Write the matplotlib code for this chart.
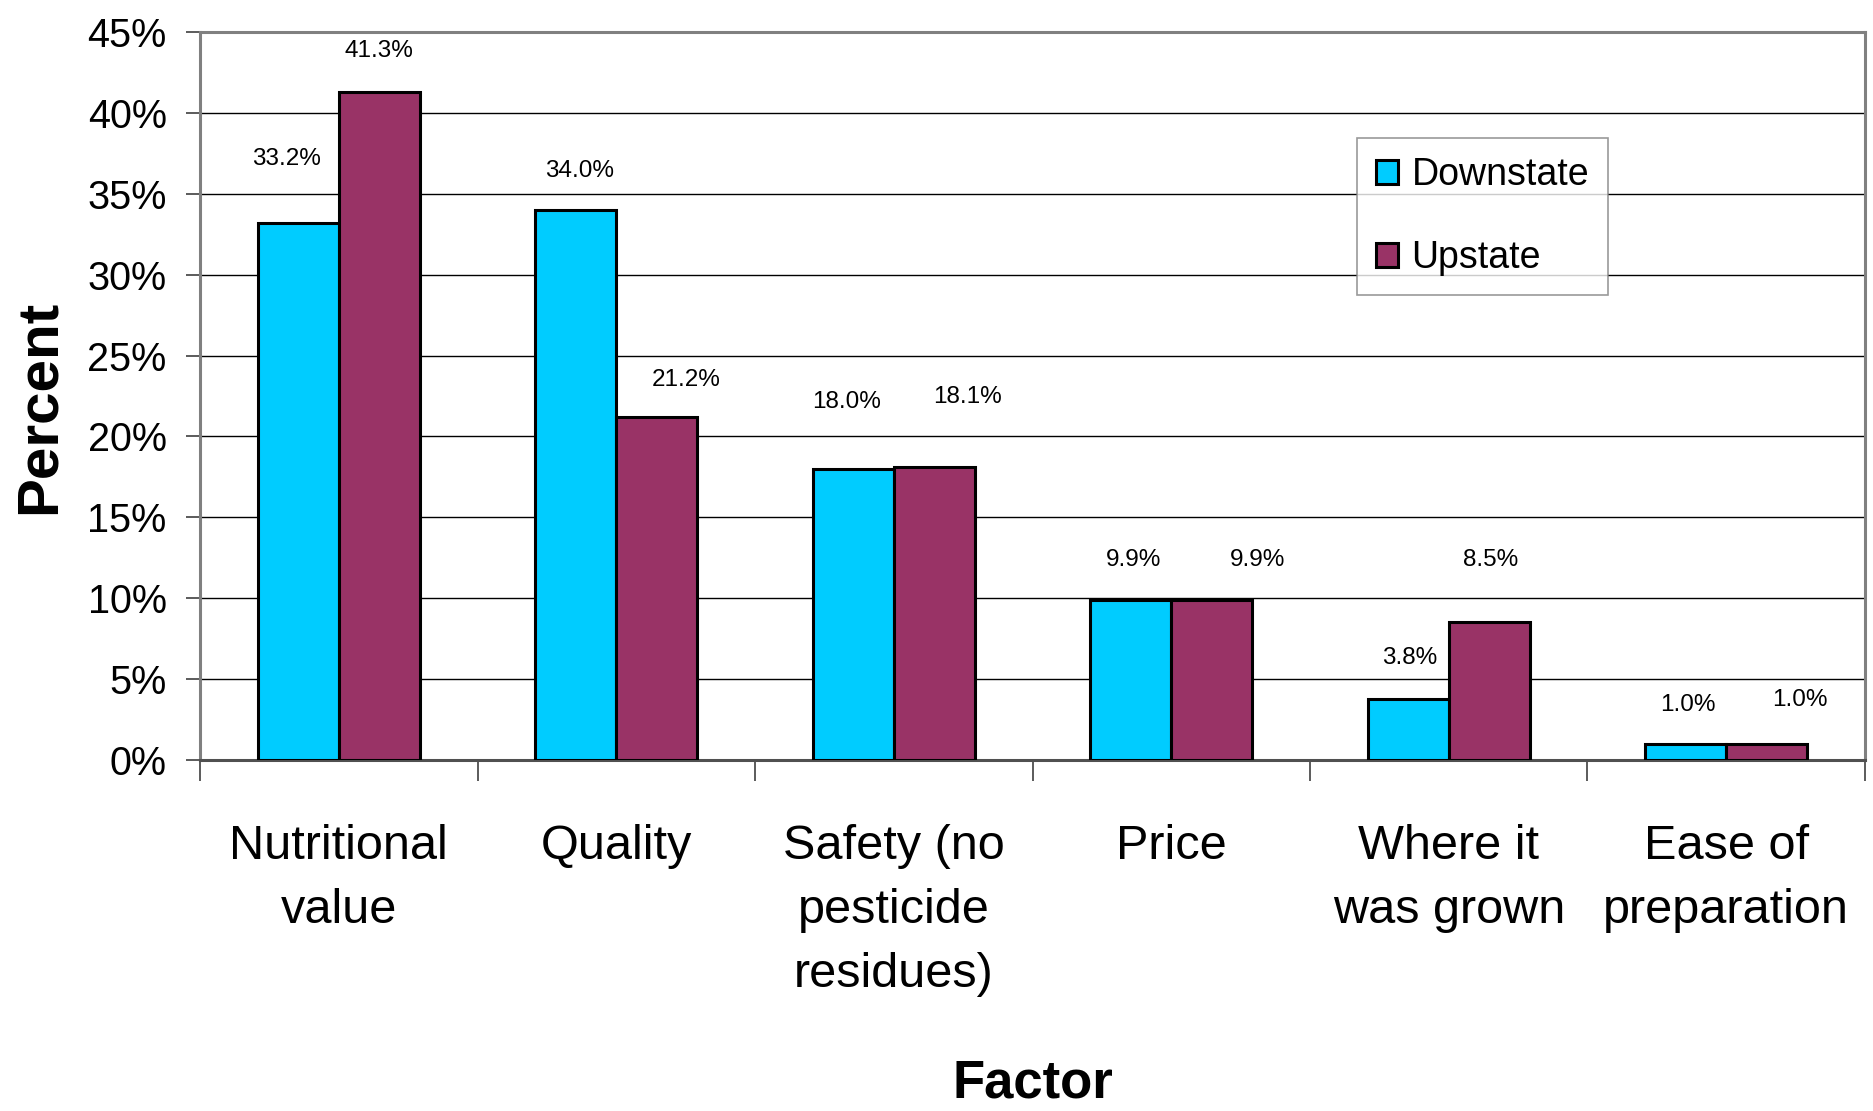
import matplotlib
matplotlib.use('Agg')
from matplotlib import pyplot

# data
factors = ['Nutritional\nvalue', 'Quality', 'Safety (no\npesticide\nresidues)',
           'Price', 'Where it\nwas grown', 'Ease of\npreparation']
downstate = [33.2, 34.0, 18.0, 9.9, 3.8, 1.0]
upstate = [41.3, 21.2, 18.1, 9.9, 8.5, 1.0]
series_names = ['Downstate', 'Upstate']
y_ticks = [0, 5, 10, 15, 20, 25, 30, 35, 40, 45]

# label nudges (pixels) as placed in the original chart
down_label_offsets = [(-12, 64), (4, 39), (-7, 67), (3, 40), (1, 41), (2, 39)]
up_label_offsets = [(0, 41), (29, 37), (33, 70), (46, 40), (1, 62), (33, 44)]

pyplot.rcParams['font.family'] = ['Liberation Sans Narrow', 'Liberation Sans', 'DejaVu Sans']

CYAN = '#00CCFF'
MAROON = '#993366'
GRAY = '#808080'

fig = pyplot.figure(figsize=(18.74, 11.11), dpi=100)
ax = fig.add_axes([200 / 1874, 1 - 760 / 1111, 1665 / 1874, 728 / 1111])

n = len(factors)
x = list(range(n))
width = 0.292

bars_d = ax.bar([i - width / 2 for i in x], downstate, width, color=CYAN,
                edgecolor='black', linewidth=2.2, label=series_names[0], zorder=3)
bars_u = ax.bar([i + width / 2 for i in x], upstate, width, color=MAROON,
                edgecolor='black', linewidth=2.2, label=series_names[1], zorder=3)

for bars, vals, offs in ((bars_d, downstate, down_label_offsets),
                         (bars_u, upstate, up_label_offsets)):
    for b, v, (dx, dy) in zip(bars, vals, offs):
        ax.annotate(f'{v:.1f}%', (b.get_x() + b.get_width() / 2, v),
                    xytext=(dx, dy), textcoords='offset pixels',
                    ha='center', va='center', fontsize=17.5)

ax.set_xlim(-0.5, n - 0.5)
ax.set_ylim(0, 45)
ax.set_yticks(y_ticks)
ax.set_yticklabels([f'{t}%' for t in y_ticks])
ax.set_xticks(x)
ax.set_xticklabels(factors, fontsize=35, linespacing=1.55)
ax.set_xticks([i - 0.5 for i in range(n + 1)], minor=True)

ax.tick_params(axis='x', which='major', length=0, pad=46)
ax.tick_params(axis='x', which='minor', length=15, width=1.2, color='#404040')
ax.tick_params(axis='y', length=10, width=1.2, color='#404040', labelsize=28.5, pad=14)

ax.yaxis.grid(True, color='black', linewidth=1.0, zorder=0)
ax.set_axisbelow(True)
for side in ('left', 'right', 'top'):
    ax.spines[side].set_color(GRAY)
    ax.spines[side].set_linewidth(2.2)
ax.spines['bottom'].set_color('#505050')
ax.spines['bottom'].set_linewidth(2.2)

ax.set_ylabel('Percent', fontsize=42, fontweight='bold')
ax.yaxis.set_label_coords(-0.08, 0.485)
ax.set_xlabel('Factor', fontsize=38, fontweight='bold')
ax.xaxis.set_label_coords(0.5, -0.41)

leg = ax.legend(loc='upper left', bbox_to_anchor=(0.695, 0.854), borderaxespad=0,
                fontsize=27, fancybox=False, handlelength=0.6, handleheight=0.6,
                handletextpad=0.35, labelspacing=1.25, borderpad=0.5)
leg.get_frame().set_edgecolor(GRAY)
leg.get_frame().set_linewidth(1.2)

fig.savefig('out.png', dpi=100)
